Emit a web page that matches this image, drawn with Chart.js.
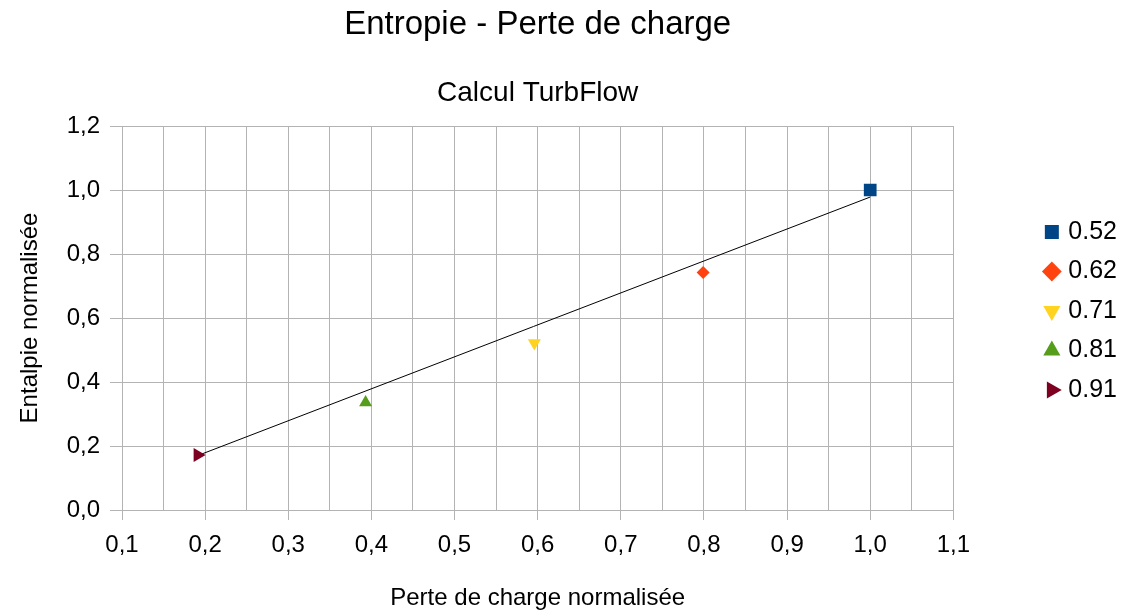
<!DOCTYPE html>
<html lang="fr">
<head>
<meta charset="utf-8">
<title>Entropie - Perte de charge</title>
<script src="https://cdn.jsdelivr.net/npm/chart.js@4.4.1/dist/chart.umd.min.js"></script>
<style>
  html, body { margin: 0; padding: 0; background: #fff; }
  #wrap { width: 1127px; height: 614px; position: relative; }
</style>
</head>
<body>
<div id="wrap"><canvas id="entropieChart"></canvas></div>
<script>
// Séries (une par rapport de débit)
const seriesLabels = ['0.52', '0.62', '0.71', '0.81', '0.91'];
const perteCharge = [1.0, 0.799, 0.596, 0.393, 0.191];
const enthalpie = [1.0, 0.742, 0.522, 0.336, 0.172];
const markerStyles = ['rect', 'rectRot', 'triangle', 'triangle', 'triangle'];
const markerRotations = [0, 0, 180, 0, 90];
const markerRadius = [9, 6.5, 7.5, 7.5, 8];
const markerColors = ['#004586', '#ff420e', '#ffd320', '#579d1c', '#7e0021'];

// Droite de tendance (extrémités)
const trendX = [0.19, 1.0];
const trendY = [0.169, 0.978];

// Axes
const xMin = 0.1, xMax = 1.1, xStep = 0.05;
const yMin = 0.0, yMax = 1.2, yStep = 0.2;

const FONT = '"Liberation Sans", Arial, sans-serif';
const GRID = '#b3b3b3';

const fmt = v => v.toFixed(1).replace('.', ',');
const isMajorX = v => Math.round(v * 100) % 10 === 0;

const datasets = seriesLabels.map((label, i) => ({
  label: label,
  data: [{ x: perteCharge[i], y: enthalpie[i] }],
  pointStyle: markerStyles[i],
  rotation: markerRotations[i],
  pointRadius: markerRadius[i],
  pointHoverRadius: markerRadius[i],
  backgroundColor: markerColors[i],
  borderColor: markerColors[i],
  borderWidth: 0
}));

datasets.push({
  label: 'tendance',
  data: trendX.map((x, i) => ({ x: x, y: trendY[i] })),
  showLine: true,
  borderColor: '#000000',
  borderWidth: 1,
  pointRadius: 0,
  pointHoverRadius: 0,
  fill: false
});

new Chart(document.getElementById('entropieChart'), {
  type: 'scatter',
  data: { datasets: datasets },
  options: {
    responsive: true,
    maintainAspectRatio: false,
    animation: false,
    layout: { padding: { top: 8, right: 0, bottom: 0, left: 0 } },
    scales: {
      x: {
        type: 'linear',
        position: 'bottom',
        min: xMin,
        max: xMax,
        afterFit: s => { s.height = 104; },
        ticks: {
          stepSize: xStep,
          autoSkip: false,
          maxRotation: 0,
          padding: 10.6,
          color: '#000',
          font: { family: FONT, size: 24 },
          callback: v => isMajorX(v) ? fmt(v) : ''
        },
        grid: {
          color: GRID,
          lineWidth: 1,
          tickLength: 10,
          tickColor: c => (c.tick && isMajorX(c.tick.value)) ? GRID : 'rgba(0,0,0,0)'
        },
        border: { color: GRID, width: 1 },
        title: {
          display: true,
          text: 'Perte de charge normalisée',
          color: '#000',
          font: { family: FONT, size: 24 },
          padding: { top: 24, bottom: 1.6 }
        }
      },
      y: {
        type: 'linear',
        position: 'left',
        min: yMin,
        max: yMax,
        afterFit: s => { s.width = 122; },
        ticks: {
          stepSize: yStep,
          padding: 10,
          color: '#000',
          font: { family: FONT, size: 24 },
          callback: v => fmt(v)
        },
        grid: { color: GRID, lineWidth: 1, tickLength: 12 },
        border: { color: GRID, width: 1 },
        title: {
          display: true,
          text: 'Entalpie normalisée',
          color: '#000',
          font: { family: FONT, size: 24 },
          padding: { top: 15.6, bottom: 0 }
        }
      },
      // espace entre le tracé et la légende
      gap: {
        type: 'linear',
        position: 'right',
        display: true,
        afterFit: s => { s.width = 80; },
        ticks: { display: false },
        grid: { display: false },
        border: { display: false }
      }
    },
    plugins: {
      title: {
        display: true,
        fullSize: false,
        text: 'Entropie - Perte de charge',
        color: '#000',
        font: { family: FONT, size: 33, weight: 'normal', lineHeight: 1 },
        padding: { top: 0, bottom: 35.8 }
      },
      subtitle: {
        display: true,
        fullSize: false,
        text: 'Calcul TurbFlow',
        color: '#000',
        font: { family: FONT, size: 28, weight: 'normal', lineHeight: 1.2 },
        padding: { top: 0, bottom: 15.6 }
      },
      legend: {
        display: true,
        position: 'right',
        labels: {
          usePointStyle: true,
          boxWidth: 8,
          boxHeight: 14,
          padding: 14.5,
          color: '#000',
          font: { family: FONT, size: 25 },
          filter: item => item.datasetIndex < seriesLabels.length
        }
      },
      tooltip: { enabled: false }
    }
  }
});
</script>
</body>
</html>
